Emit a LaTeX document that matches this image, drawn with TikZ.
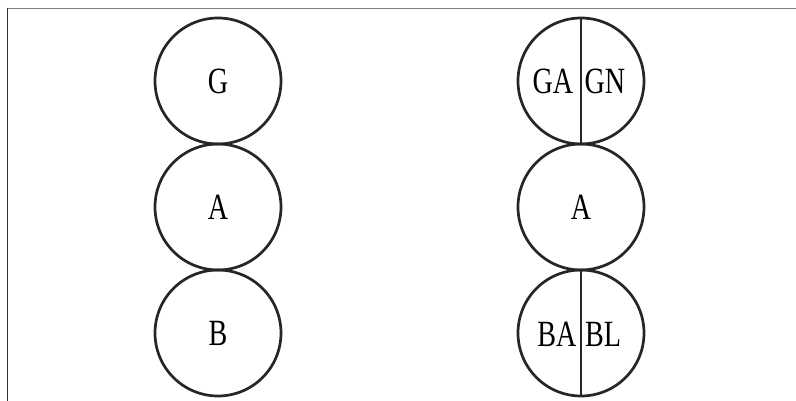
\documentclass[tikz,border=0pt]{standalone}
\usepackage{fontspec}
\setmainfont{Liberation Serif}[FakeStretch=0.76]
\begin{document}
\begin{tikzpicture}[x=1pt,y=-1pt,
  ring/.style={circle,draw=black!85,line width=2.7pt,minimum size=126pt,inner sep=0pt,font=\fontsize{37}{40}\selectfont},
  label/.style={inner sep=0pt,font=\fontsize{37}{40}\selectfont},
  divider/.style={draw=black!85,line width=1.8pt}]
\useasboundingbox (0,0) rectangle (796,401);
% frame edges
\draw[black!50,line width=1.5pt] (7,8.3) -- (796,8.3);
\draw[black!80,line width=1.3pt] (7.5,8) -- (7.5,401);
% left column
\node[ring] (g) at (218,81) {G};
\node[ring] (a) at (218,207) {A};
\node[ring] (b) at (218,333) {B};
% right column
\node[ring] (gs) at (581,81) {};
\node[ring] (as) at (581,207) {A};
\node[ring] (bs) at (581,333) {};
\path[divider] (gs.north) -- (gs.south);
\path[divider] (bs.north) -- (bs.south);
\node[label] (ga) at (553,81) {GA};
\node[label] (gn) at (605,81) {GN};
\node[label] (ba) at (557,334) {BA};
\node[label] (bl) at (603,334) {BL};
\end{tikzpicture}
\end{document}
